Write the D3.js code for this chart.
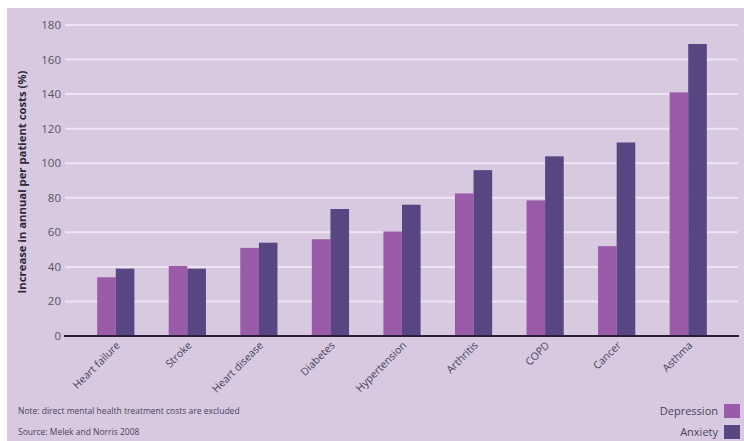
<!DOCTYPE html>
<html>
<head>
<meta charset="utf-8">
<script src="https://cdn.jsdelivr.net/npm/d3@7"></script>
<style>
  body { margin: 0; background: #fff; }
  text { font-family: "Open Sans", "DejaVu Sans", sans-serif; }
  .tick-label { font-size: 11.5px; fill: #5a5560; }
  .cat-label { font-size: 10.5px; fill: #4a4458; }
  .note { font-size: 8.5px; fill: #4a4458; }
  .legend-label { font-size: 11px; fill: #4a4458; }
  .y-title { font-size: 11.3px; font-weight: bold; fill: #2e2838; }
</style>
</head>
<body>
<script>
// data
const categories = ['Heart failure', 'Stroke', 'Heart disease', 'Diabetes', 'Hypertension', 'Arthritis', 'COPD', 'Cancer', 'Asthma'];
const depression = [34, 40.5, 51, 56, 60.5, 82.5, 78.5, 52, 141];
const anxiety = [39, 39, 54, 73.5, 76, 96, 104, 112, 169];
const seriesNames = ['Depression', 'Anxiety'];
const yTicks = [0, 20, 40, 60, 80, 100, 120, 140, 160, 180];

const colors = { Depression: '#9a5ba9', Anxiety: '#574682' };

// svg params
const svgW = 744;
const svgH = 441;

const svg = d3.select('body').append('svg').attr('width', svgW).attr('height', svgH);

// panel background
svg.append('rect').attr('x', 7).attr('y', 8).attr('width', svgW - 7).attr('height', svgH - 8).attr('fill', '#d8c9e1');

const y = d3.scaleLinear().domain([0, 180]).range([336, 25]);
const x0 = d3.scaleBand().domain(categories).range([80, 724]).paddingInner(0.48).paddingOuter(0.24);
const x1 = d3.scaleBand().domain(seriesNames).range([0, x0.bandwidth()]);

/*
  grid + y ticks
*/
yTicks.forEach((t) => {
  if (t > 0) {
    svg.append('line')
      .attr('x1', 65).attr('x2', 738)
      .attr('y1', y(t)).attr('y2', y(t))
      .attr('stroke', '#efe3f4').attr('stroke-width', 2);
  }
  svg.append('text')
    .attr('x', 61).attr('y', y(t) + 4)
    .attr('text-anchor', 'end')
    .attr('class', 'tick-label')
    .text(t);
});

/*
  bars
*/
const rows = categories.map((c, i) => ({ cat: c, Depression: depression[i], Anxiety: anxiety[i] }));

const groups = svg.selectAll('g.group').data(rows).enter().append('g')
  .attr('class', 'group')
  .attr('transform', (d) => 'translate(' + x0(d.cat) + ',0)');

groups.selectAll('rect').data((d) => seriesNames.map((s) => ({ s: s, v: d[s] }))).enter().append('rect')
  .attr('x', (d) => x1(d.s))
  .attr('width', x1.bandwidth())
  .attr('y', (d) => y(d.v))
  .attr('height', (d) => y(0) - y(d.v))
  .attr('fill', (d) => colors[d.s]);

// zero axis line
svg.append('line')
  .attr('x1', 64).attr('x2', 739)
  .attr('y1', y(0)).attr('y2', y(0))
  .attr('stroke', '#2a1f36').attr('stroke-width', 2);

// category labels
categories.forEach((c) => {
  const cx = x0(c) + x0.bandwidth() / 2 + 5;
  svg.append('text')
    .attr('class', 'cat-label')
    .attr('text-anchor', 'end')
    .attr('transform', 'translate(' + cx + ',' + (y(0) + 10) + ') rotate(-45)')
    .text(c);
});

// y title
svg.append('text')
  .attr('class', 'y-title')
  .attr('text-anchor', 'middle')
  .attr('transform', 'translate(26,' + 182 + ') rotate(-90)')
  .text('Increase in annual per patient costs (%)');

// notes
svg.append('text').attr('class', 'note').attr('x', 18).attr('y', 414).text('Note: direct mental health treatment costs are excluded');
svg.append('text').attr('class', 'note').attr('x', 18).attr('y', 435).text('Source: Melek and Norris 2008');

// legend
seriesNames.forEach((s, i) => {
  const ly = 411 + i * 21;
  svg.append('rect').attr('x', 724).attr('y', ly - 7).attr('width', 16).attr('height', 14).attr('fill', colors[s]);
  svg.append('text').attr('class', 'legend-label').attr('x', 718).attr('y', ly + 4).attr('text-anchor', 'end').text(s);
});
</script>
</body>
</html>
